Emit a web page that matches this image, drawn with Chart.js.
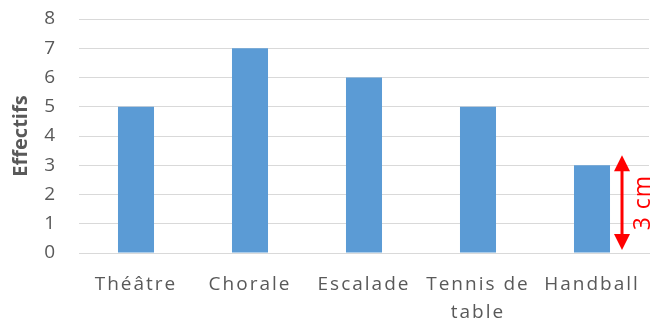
<!DOCTYPE html>
<html>
<head>
<meta charset="utf-8">
<script src="https://cdn.jsdelivr.net/npm/chart.js@4.4.1/dist/chart.umd.min.js"></script>
<style>
  html, body { margin: 0; padding: 0; background: #fff; }
  #wrap { width: 654px; height: 322px; position: relative; }
</style>
</head>
<body>
<div id="wrap"><canvas id="c"></canvas></div>
<script>
const categories = ['Théâtre', 'Chorale', 'Escalade', ['Tennis de', 'table'], 'Handball'];
const effectifs = [5, 7, 6, 5, 3];
const yTicks = [0, 1, 2, 3, 4, 5, 6, 7, 8];
const yTitle = 'Effectifs';
const arrowLabel = '3 cm';
const arrowFrom = 0;
const arrowTo = 3;

// wider letter spacing like the original office rendering
const spacingPlugin = {
    id: 'spacingPlugin',
    beforeDraw(chart) { chart.ctx.letterSpacing = '2px'; },
    afterDraw(chart) { chart.ctx.letterSpacing = '0px'; },
};

// double arrow + "3 cm" next to the last bar
const arrowPlugin = {
    id: 'arrowPlugin',
    afterDatasetsDraw(chart) {
        const { ctx, scales } = chart;
        const meta = chart.getDatasetMeta(0);
        const bar = meta.data[meta.data.length - 1];
        const x = bar.x + bar.width / 2 + 12;
        const yTop = scales.y.getPixelForValue(arrowTo) - 10;
        const yBot = scales.y.getPixelForValue(arrowFrom) - 3;
        const head = 16, half = 8;
        ctx.save();
        ctx.letterSpacing = '1px';
        ctx.strokeStyle = '#ff0000';
        ctx.fillStyle = '#ff0000';
        ctx.lineWidth = 3;
        ctx.beginPath();
        ctx.moveTo(x, yTop + head - 2);
        ctx.lineTo(x, yBot - head + 2);
        ctx.stroke();
        ctx.beginPath();
        ctx.moveTo(x, yTop);
        ctx.lineTo(x - half, yTop + head);
        ctx.lineTo(x + half, yTop + head);
        ctx.closePath();
        ctx.fill();
        ctx.beginPath();
        ctx.moveTo(x, yBot);
        ctx.lineTo(x - half, yBot - head);
        ctx.lineTo(x + half, yBot - head);
        ctx.closePath();
        ctx.fill();
        ctx.translate(x + 21, (yTop + yBot) / 2);
        ctx.rotate(-Math.PI / 2);
        ctx.font = '23px "Open Sans", sans-serif';
        ctx.textAlign = 'center';
        ctx.textBaseline = 'middle';
        ctx.fillText(arrowLabel, 0, 0);
        ctx.restore();
    }
};

new Chart(document.getElementById('c'), {
    type: 'bar',
    data: {
        labels: categories,
        datasets: [{
            data: effectifs,
            backgroundColor: '#5b9bd5',
            barPercentage: 1,
            categoryPercentage: 0.316,
        }],
    },
    options: {
        responsive: true,
        maintainAspectRatio: false,
        animation: false,
        layout: { padding: { top: 19, right: 5, bottom: 0, left: 0 } },
        plugins: {
            legend: { display: false },
            tooltip: { enabled: false },
        },
        scales: {
            x: {
                grid: { display: false, drawTicks: false },
                border: { display: true, color: '#d9d9d9', width: 1 },
                ticks: {
                    color: '#595959',
                    font: { family: '"Open Sans", sans-serif', size: 19, lineHeight: 1.45 },
                    padding: 18,
                    maxRotation: 0,
                    autoSkip: false,
                },
                afterFit(scale) { scale.height = 69; },
            },
            y: {
                min: 0,
                max: 8,
                afterBuildTicks(scale) { scale.ticks = yTicks.map(v => ({ value: v })); },
                grid: { color: '#d9d9d9', drawTicks: false },
                border: { display: false },
                ticks: {
                    color: '#595959',
                    font: { family: '"Open Sans", sans-serif', size: 19 },
                    padding: 22,
                },
                title: {
                    display: true,
                    text: yTitle,
                    color: '#595959',
                    font: { family: '"Open Sans", sans-serif', size: 20, weight: 'bold' },
                    padding: { top: 9, bottom: 0 },
                },
                afterFit(scale) {
                    scale.width = 79;
                    scale.paddingTop = 0;
                    scale.paddingBottom = 0;
                    // title keeps normal spacing
                    if (!scale._plainTitle) {
                        const draw = scale.drawTitle;
                        scale.drawTitle = function () {
                            const ctx = this.ctx;
                            const prev = ctx.letterSpacing;
                            ctx.letterSpacing = '0px';
                            draw.apply(this, arguments);
                            ctx.letterSpacing = prev;
                        };
                        scale._plainTitle = true;
                    }
                },
            },
        },
    },
    plugins: [spacingPlugin, arrowPlugin],
});
</script>
</body>
</html>
